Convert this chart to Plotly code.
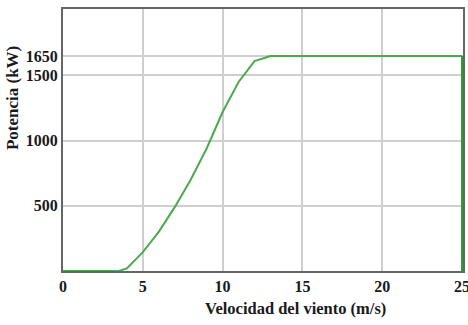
import plotly.graph_objects as go

wind_speed = [0, 3.5, 4, 5, 6, 7, 8, 9, 10, 11, 12, 13, 25]
power_kw = [0, 0, 20, 145, 300, 490, 700, 940, 1220, 1450, 1610, 1650, 1650]
cutoff_speed = [25, 25]
cutoff_power = [1650, 0]
x_ticks = [0, 5, 10, 15, 20, 25]
y_ticks = [500, 1000, 1500, 1650]
x_title = "Velocidad del viento (m/s)"
y_title = "Potencia (kW)"

font_family = "Liberation Serif, Times New Roman, serif"

fig = go.Figure()
fig.add_trace(go.Scatter(x=wind_speed, y=power_kw, mode="lines",
                         line=dict(color="rgb(78,168,78)", width=2),
                         showlegend=False))
fig.add_trace(go.Scatter(x=cutoff_speed, y=cutoff_power, mode="lines",
                         line=dict(color="rgb(34,160,34)", width=2),
                         showlegend=False))

fig.update_layout(
    width=468, height=325,
    margin=dict(l=63, r=5, t=9, b=54),
    paper_bgcolor="white", plot_bgcolor="white",
    font=dict(family=font_family, color="#1a1a1a"),
    xaxis=dict(
        range=[0, 25.06], tickvals=x_ticks,
        ticktext=[f"<b>{v}</b>" for v in x_ticks],
        tickfont=dict(size=16, family=font_family),
        showgrid=True, gridcolor="#cfcfcf", gridwidth=1.5,
        showline=True, linecolor="#666666", linewidth=2, mirror=True,
        zeroline=False, ticks="", layer="below traces", automargin=False,
        ticklabeloverflow="allow",
    ),
    yaxis=dict(
        range=[0, 2010], tickvals=y_ticks,
        ticktext=[f"<b>{v}</b>" for v in y_ticks],
        tickfont=dict(size=16, family=font_family),
        showgrid=True, gridcolor="#cfcfcf", gridwidth=1.5,
        showline=True, linecolor="#666666", linewidth=2, mirror=True,
        zeroline=False, ticks="", layer="below traces", automargin=False,
        ticklabeloverflow="allow",
    ),
    annotations=[
        dict(text=f"<b>{x_title}</b>", xref="paper", yref="paper",
             x=0.58, y=-0.145, xanchor="center", yanchor="middle",
             showarrow=False, font=dict(size=16.5, family=font_family)),
        dict(text=f"<b>{y_title}</b>", xref="paper", yref="paper",
             x=-0.1275, y=0.66, xanchor="center", yanchor="middle",
             textangle=-90, showarrow=False,
             font=dict(size=17, family=font_family)),
    ],
)

fig.write_html(
    "out.html",
    config={"displayModeBar": False},
    post_script="document.documentElement.style.overflow='hidden';"
                "document.body.style.margin='0';"
                "document.body.style.overflow='hidden';",
)
